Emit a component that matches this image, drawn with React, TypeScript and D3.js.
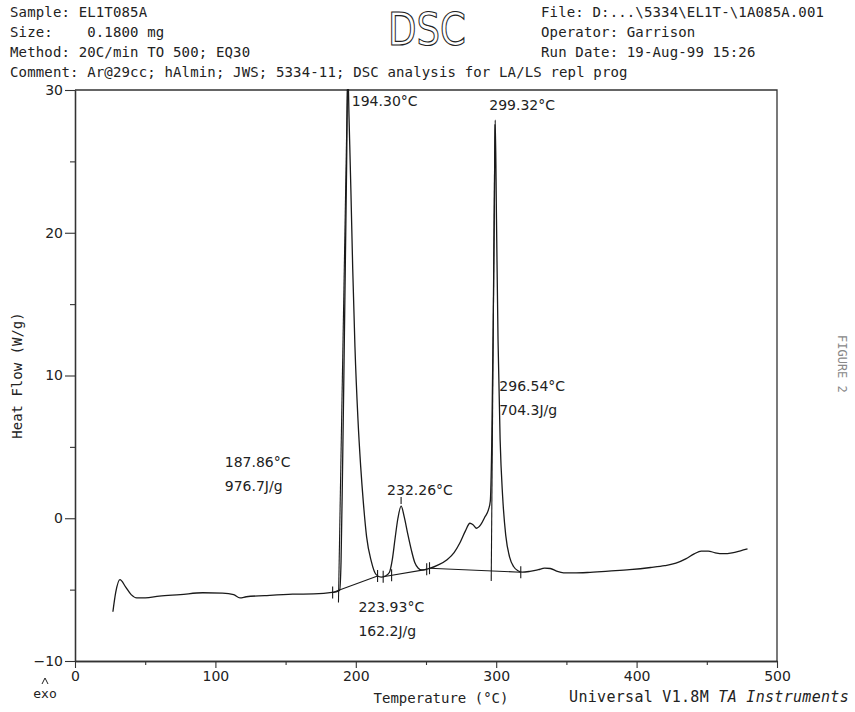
import React, { useEffect, useRef } from 'react';
import * as d3 from 'd3';

// DSC trace: temperature (°C) and heat flow (W/g)
const temperature = [
  27, 29, 32, 36, 40, 44, 50, 60, 75, 91, 105, 113, 117.5, 122, 135, 155, 170, 183, 186,
  188.5, 189.5, 190.5, 191.5, 192.5, 193.5, 194.3, 195.2, 196.5, 197.8, 199.4, 201.5, 203.5,
  205.3, 207.7, 211, 214.5, 218, 221, 223.9, 226, 228, 230, 232.3, 234.5, 237, 239.5, 242,
  244.5, 247, 250, 253, 258, 265, 270, 274, 278, 281.3, 283.5, 286, 289, 292, 294.5, 295.8,
  296.8, 297.8, 298.6, 299.3, 300.2, 301.3, 302.8, 304.6, 306.8, 309.5, 312.5, 315.5, 318.5,
  324, 330, 334.5, 338.5, 343, 348, 355, 365, 380, 395, 410, 420, 428, 435, 441, 446, 451,
  456, 462, 468, 474, 479,
];
const heatFlow = [
  -6.55, -5.2, -4.3, -4.8, -5.35, -5.58, -5.58, -5.45, -5.35, -5.22, -5.25, -5.35, -5.58, -5.5,
  -5.42, -5.32, -5.3, -5.2, -5.15, -5.05, -3.0, 3.0, 10, 17.5, 25, 31.5, 28, 23, 17.5, 12, 7,
  3.6, 1.2, -1.3, -3.0, -3.95, -4.12, -4.05, -3.8, -2.9, -1.4, 0.0, 0.85, 0.1, -1.1, -2.2, -3.1,
  -3.5, -3.62, -3.58, -3.5, -3.3, -2.9, -2.4, -1.75, -0.9, -0.35, -0.45, -0.7, -0.45, 0.1, 0.6,
  1.2, 5, 13, 21, 27.9, 21, 12.5, 5.5, 1.5, -1.2, -2.7, -3.4, -3.68, -3.78, -3.72, -3.6, -3.5,
  -3.52, -3.7, -3.82, -3.83, -3.8, -3.7, -3.6, -3.45, -3.32, -3.15, -2.85, -2.5, -2.3, -2.3,
  -2.42, -2.48, -2.42, -2.28, -2.15,
];

// integration baselines [t1, hf1, t2, hf2]
const baselines: number[][] = [
  [183.5, -5.2, 215.5, -4.05],
  [219.5, -4.1, 250.5, -3.58],
  [252.5, -3.5, 317.5, -3.78],
];
const limitTicks = [183.5, 215.5, 219.5, 225.5, 250.5, 252.5, 317.5];
// onset tangents [t1, hf1, t2, hf2]
const tangents: number[][] = [
  [187.65, -5.9, 194.0, 30],
  [296.45, -4.4, 299.1, 27.6],
];

const xMajor = [0, 100, 200, 300, 400, 500];
const xMinor = [50, 150, 250, 350, 450];
const yMajor = [-10, 0, 10, 20, 30];
const yMinor = [-5, 5, 15, 25];

// annotations: temperature, heat flow anchor, text lines
const annotations = [
  { t: 194.3, hf: 28.9, lines: ['194.30°C'] },
  { t: 299.32, hf: 28.6, lines: ['299.32°C'] },
  { t: 296.54, hf: 8.9, lines: ['296.54°C', '704.3J/g'] },
  { t: 187.86, hf: 3.6, lines: ['187.86°C', '976.7J/g'] },
  { t: 232.26, hf: 1.6, lines: ['232.26°C'] },
  { t: 223.93, hf: -6.6, lines: ['223.93°C', '162.2J/g'] },
];
const annoOffsets = [4, -6, 8, -114, -14, -31];

const headerLeft = [
  'Sample: EL1T085A',
  'Size:    0.1800 mg',
  'Method: 20C/min TO 500; EQ30',
  'Comment: Ar@29cc; hAlmin; JWS; 5334-11; DSC analysis for LA/LS repl prog',
];
const headerRight = [
  'File: D:...\\5334\\EL1T-\\1A085A.001',
  'Operator: Garrison',
  'Run Date: 19-Aug-99 15:26',
];

const W = 855;
const H = 712;
const mono = '"DejaVu Sans Mono", "Liberation Mono", monospace';
const sans = '"DejaVu Sans", sans-serif';
const ink = '#222';

const App: React.FC = () => {
  const svgRef = useRef<SVGSVGElement>(null);

  useEffect(() => {
    if (!svgRef.current) return;
    const svg = d3.select(svgRef.current);
    svg.selectAll('*').remove();

    const x = d3.scaleLinear().domain([0, 500]).range([75, 777]);
    const y = d3.scaleLinear().domain([-10, 30]).range([661, 90]);

    // header
    svg
      .append('g')
      .selectAll('text')
      .data(headerLeft)
      .enter()
      .append('text')
      .attr('x', 10)
      .attr('y', (_, i) => 17 + i * 20)
      .attr('xml:space', 'preserve')
      .style('white-space', 'pre')
      .style('font-family', mono)
      .style('font-size', '14px')
      .style('letter-spacing', '0.15px')
      .style('fill', ink)
      .text(d => d);

    svg
      .append('g')
      .selectAll('text')
      .data(headerRight)
      .enter()
      .append('text')
      .attr('x', 541)
      .attr('y', (_, i) => 17 + i * 20)
      .style('font-family', mono)
      .style('font-size', '14px')
      .style('letter-spacing', '0.15px')
      .style('fill', ink)
      .text(d => d);

    svg
      .append('text')
      .attr('x', 388)
      .attr('y', 45)
      .attr('textLength', 78)
      .attr('lengthAdjust', 'spacingAndGlyphs')
      .style('font-family', sans)
      .style('font-size', '44px')
      .style('fill', 'none')
      .style('stroke', ink)
      .style('stroke-width', 1.1)
      .text('DSC');

    // frame
    svg
      .append('path')
      .attr('d', `M${x(0)},${y(30)}H${x(500)}V${y(-10)}`)
      .attr('fill', 'none')
      .attr('stroke', '#333')
      .attr('stroke-width', 1.3);

    const styleAxis = (g: d3.Selection<SVGGElement, unknown, null, undefined>) => {
      g.select('.domain').attr('stroke', '#333').attr('stroke-width', 1.3);
      g.selectAll('.tick line').attr('stroke', '#333').attr('stroke-width', 1.1);
      g.selectAll('.tick text')
        .style('font-family', sans)
        .style('font-size', '14px')
        .style('fill', ink);
    };

    svg
      .append('g')
      .attr('transform', `translate(0,${y(-10)})`)
      .call(
        d3
          .axisBottom(x)
          .tickValues(xMajor)
          .tickSize(7)
          .tickSizeOuter(0)
          .tickPadding(3)
          .tickFormat(d3.format('d'))
      )
      .call(styleAxis);
    svg
      .append('g')
      .attr('transform', `translate(0,${y(-10)})`)
      .call(d3.axisBottom(x).tickValues(xMinor).tickSize(4).tickSizeOuter(0).tickFormat(() => ''))
      .call(styleAxis);

    svg
      .append('g')
      .attr('transform', `translate(${x(0)},0)`)
      .call(
        d3
          .axisLeft(y)
          .tickValues(yMajor)
          .tickSize(10)
          .tickSizeOuter(0)
          .tickPadding(2)
          .tickFormat(d3.format('d'))
      )
      .call(styleAxis);
    svg
      .append('g')
      .attr('transform', `translate(${x(0)},0)`)
      .call(d3.axisLeft(y).tickValues(yMinor).tickSize(5).tickSizeOuter(0).tickFormat(() => ''))
      .call(styleAxis);

    // axis titles
    svg
      .append('text')
      .attr('transform', `translate(22,${y(10)}) rotate(-90)`)
      .attr('text-anchor', 'middle')
      .style('font-family', mono)
      .style('font-size', '14px')
      .style('fill', ink)
      .text('Heat Flow (W/g)');
    svg
      .append('text')
      .attr('x', 441)
      .attr('y', 703)
      .attr('text-anchor', 'middle')
      .style('font-family', mono)
      .style('font-size', '14px')
      .style('fill', ink)
      .text('Temperature (°C)');

    const footer = svg
      .append('text')
      .attr('x', 849)
      .attr('y', 702)
      .attr('text-anchor', 'end')
      .style('font-family', mono)
      .style('font-size', '15px')
      .style('letter-spacing', '0.3px')
      .style('fill', ink);
    footer.append('tspan').text('Universal V1.8M ');
    footer.append('tspan').style('font-style', 'italic').text('TA Instruments');

    // exo marker
    svg
      .append('path')
      .attr('d', 'M42,684 L45,678 L48,684')
      .attr('fill', 'none')
      .attr('stroke', ink)
      .attr('stroke-width', 1);
    svg
      .append('text')
      .attr('x', 45)
      .attr('y', 698)
      .attr('text-anchor', 'middle')
      .style('font-family', mono)
      .style('font-size', '13px')
      .style('fill', ink)
      .text('exo');

    svg
      .append('text')
      .attr('transform', 'translate(838,335) rotate(90)')
      .style('font-family', mono)
      .style('font-size', '12px')
      .style('fill', '#888')
      .text('FIGURE 2');

    // plot clip
    svg
      .append('clipPath')
      .attr('id', 'plot-clip')
      .append('rect')
      .attr('x', x(0))
      .attr('y', y(30) - 1)
      .attr('width', x(500) - x(0))
      .attr('height', y(-10) - y(30) + 1);

    const plot = svg.append('g').attr('clip-path', 'url(#plot-clip)');

    const points: [number, number][] = temperature.map((t, i) => [t, heatFlow[i]]);
    const line = d3
      .line<[number, number]>()
      .x(d => x(d[0]))
      .y(d => y(d[1]))
      .curve(d3.curveMonotoneX);

    plot
      .append('path')
      .datum(points)
      .attr('d', line)
      .attr('fill', 'none')
      .attr('stroke', '#1a1a1a')
      .attr('stroke-width', 1.3);

    const segs = [...baselines, ...tangents];
    plot
      .selectAll('.seg')
      .data(segs)
      .enter()
      .append('line')
      .attr('x1', d => x(d[0]))
      .attr('y1', d => y(d[1]))
      .attr('x2', d => x(d[2]))
      .attr('y2', d => y(d[3]))
      .attr('stroke', '#1a1a1a')
      .attr('stroke-width', 1.1);

    const baseAt = (t: number) => {
      const s = baselines.find(b => t >= b[0] - 0.01 && t <= b[2] + 0.01);
      if (!s) return -4;
      return s[1] + ((t - s[0]) / (s[2] - s[0])) * (s[3] - s[1]);
    };
    plot
      .selectAll('.limit')
      .data(limitTicks)
      .enter()
      .append('line')
      .attr('x1', d => x(d))
      .attr('x2', d => x(d))
      .attr('y1', d => y(baseAt(d)) - 6)
      .attr('y2', d => y(baseAt(d)) + 6)
      .attr('stroke', '#1a1a1a')
      .attr('stroke-width', 1.1);

    // peak marker on the small peak
    plot
      .append('line')
      .attr('x1', x(232.26))
      .attr('x2', x(232.26))
      .attr('y1', y(0.85) - 2)
      .attr('y2', y(0.85) - 9)
      .attr('stroke', '#1a1a1a')
      .attr('stroke-width', 1.1);

    // annotations
    annotations.forEach((a, i) => {
      const ax = x(a.t) + annoOffsets[i];
      const txt = svg
        .append('text')
        .attr('x', ax)
        .attr('y', y(a.hf))
        .style('font-family', sans)
        .style('font-size', '14px')
        .style('fill', ink);
      a.lines.forEach((l, j) => {
        txt
          .append('tspan')
          .attr('x', ax)
          .attr('dy', j === 0 ? 0 : 24)
          .text(l);
      });
    });
  }, []);

  return (
    <svg
      ref={svgRef}
      width={W}
      height={H}
      style={{ position: 'absolute', left: 0, top: 0, background: '#fff' }}
    />
  );
};

export default App;
